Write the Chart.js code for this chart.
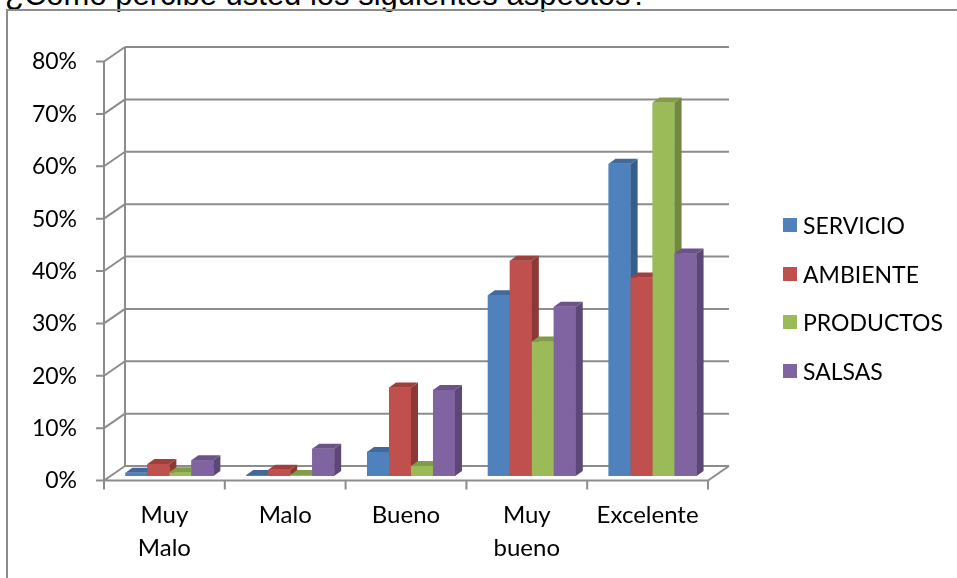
<!DOCTYPE html>
<html>
<head>
<meta charset="utf-8">
<script src="https://cdn.jsdelivr.net/npm/chart.js@4"></script>
<style>
  body { margin: 0; background: #fff; }
  #wrap { position: relative; width: 957px; height: 578px; overflow: hidden; }
  #title {
    position: absolute; left: 5px; top: -21px; white-space: nowrap;
    font-family: "Liberation Sans", Arial, sans-serif; font-size: 31px; line-height: 31px; color: #000;
  }
  #frame {
    position: absolute; left: 6px; top: 9px; width: 980px; height: 600px;
    border: 2px solid #8c8c8c; box-sizing: border-box;
  }
  #chart { position: absolute; left: 0; top: 0; }
  #legend { position: absolute; left: 783px; top: 201px; font-family: Lato, sans-serif; font-size: 23px; color: #000; }
  #legend .item { display: flex; align-items: center; height: 48.5px; }
  #legend .box { width: 14px; height: 14px; margin-right: 6px; }
</style>
</head>
<body>
<div id="wrap">
  <div id="title">¿Cómo percibe usted los siguientes aspectos?</div>
  <div id="frame"></div>
  <canvas id="chart" width="957" height="578"></canvas>
  <div id="legend"></div>
</div>
<script>
// Données (pourcentages)
const categories = [['Muy', 'Malo'], 'Malo', 'Bueno', ['Muy', 'bueno'], 'Excelente'];
const seriesNames = ['SERVICIO', 'AMBIENTE', 'PRODUCTOS', 'SALSAS'];
const servicio = [0.6, 0.2, 4.6, 34.5, 59.6];
const ambiente = [2.3, 1.2, 16.9, 41.1, 37.9];
const productos = [0.7, 0.2, 1.9, 25.7, 71.3];
const salsas = [3.0, 5.2, 16.4, 32.3, 42.5];
const yMax = 80;
const yStep = 10;

// Couleurs : face avant, côté, dessus
const frontColors = ['#4f81bd', '#c0504d', '#9bbb59', '#8064a2'];
const sideColors = ['#385d8a', '#8c3836', '#71893f', '#5c4776'];
const topColors = ['#41699b', '#a0403d', '#819c48', '#6b5388'];

const GRID = '#8c8c8c';
const FRONT = { dx: -5, dy: 4.5 };   // plan avant (axe) par rapport au plan des barres
const BACK = { dx: 16, dy: -10 };    // paroi du fond
const DEPTH = { dx: 7, dy: -5 };     // profondeur des barres

/**
 * Cadre 3D : paroi du fond, sol, axes avant
 */
const frame3d = {
    id: 'frame3d',
    beforeDatasetsDraw(chart) {
        const { ctx, chartArea: a, scales: { x, y } } = chart;
        const y0 = y.getPixelForValue(0);
        const yTop = y.getPixelForValue(yMax);
        ctx.save();
        ctx.strokeStyle = GRID;
        ctx.lineWidth = 2;
        ctx.beginPath();
        y.ticks.forEach(t => {
            const py = y.getPixelForValue(t.value);
            ctx.moveTo(a.left + BACK.dx, py + BACK.dy);
            ctx.lineTo(a.right + BACK.dx, py + BACK.dy);
            ctx.moveTo(a.left + FRONT.dx, py + FRONT.dy);
            ctx.lineTo(a.left + BACK.dx, py + BACK.dy);
            ctx.moveTo(a.left + FRONT.dx - 8, py + FRONT.dy);
            ctx.lineTo(a.left + FRONT.dx, py + FRONT.dy);
        });
        // paroi gauche du fond
        ctx.moveTo(a.left + BACK.dx, y0 + BACK.dy);
        ctx.lineTo(a.left + BACK.dx, yTop + BACK.dy);
        // axe vertical avant
        ctx.moveTo(a.left + FRONT.dx, y0 + FRONT.dy);
        ctx.lineTo(a.left + FRONT.dx, yTop + FRONT.dy);
        // sol
        ctx.moveTo(a.left + FRONT.dx, y0 + FRONT.dy);
        ctx.lineTo(a.right + FRONT.dx, y0 + FRONT.dy);
        ctx.lineTo(a.right + BACK.dx, y0 + BACK.dy);
        // graduations de l'axe X
        const step = x.getPixelForValue(1) - x.getPixelForValue(0);
        for (let i = 0; i <= categories.length; i++) {
            const px = x.getPixelForValue(0) - step / 2 + i * step + FRONT.dx;
            ctx.moveTo(px, y0 + FRONT.dy);
            ctx.lineTo(px, y0 + FRONT.dy + 9);
        }
        ctx.stroke();
        ctx.restore();
    },
    afterDatasetsDraw(chart) {
        const { ctx } = chart;
        const metas = chart.data.datasets.map((ds, i) => chart.getDatasetMeta(i));
        ctx.save();
        for (let i = 0; i < categories.length; i++) {
            metas.forEach((meta, d) => {
                const el = meta.data[i];
                const { x, y, base, width } = el.getProps(['x', 'y', 'base', 'width'], true);
                const l = x - width / 2;
                const r = x + width / 2;
                // face avant
                ctx.fillStyle = frontColors[d];
                ctx.fillRect(l, y, width, base - y);
                // côté
                ctx.fillStyle = sideColors[d];
                ctx.beginPath();
                ctx.moveTo(r, y);
                ctx.lineTo(r + DEPTH.dx, y + DEPTH.dy);
                ctx.lineTo(r + DEPTH.dx, base + DEPTH.dy);
                ctx.lineTo(r, base);
                ctx.closePath();
                ctx.fill();
                // dessus
                ctx.fillStyle = topColors[d];
                ctx.beginPath();
                ctx.moveTo(l, y);
                ctx.lineTo(l + DEPTH.dx, y + DEPTH.dy);
                ctx.lineTo(r + DEPTH.dx, y + DEPTH.dy);
                ctx.lineTo(r, y);
                ctx.closePath();
                ctx.fill();
            });
        }
        ctx.restore();
    }
};

const seriesValues = [servicio, ambiente, productos, salsas];

const chart = new Chart(document.getElementById('chart'), {
    type: 'bar',
    data: {
        labels: categories,
        datasets: seriesNames.map((name, i) => ({
            label: name,
            data: seriesValues[i],
            backgroundColor: frontColors[i],
            borderWidth: 0,
            categoryPercentage: 0.728,
            barPercentage: 1.0
        }))
    },
    options: {
        responsive: false,
        animation: false,
        devicePixelRatio: 1,
        layout: {
            padding: { top: 57, right: 244, bottom: 0, left: 0 }
        },
        scales: {
            y: {
                min: 0,
                max: yMax,
                border: { display: false },
                grid: { display: false, drawTicks: false },
                afterFit: scale => { scale.width = 109; },
                ticks: {
                    stepSize: yStep,
                    padding: 32,
                    labelOffset: 5,
                    color: '#000',
                    font: { family: 'Lato', size: 23 },
                    callback: v => v + '%'
                }
            },
            x: {
                border: { display: false },
                grid: { display: false, drawTicks: false },
                afterFit: scale => { scale.height = 102; },
                ticks: {
                    padding: 22,
                    labelOffset: -5,
                    maxRotation: 0,
                    autoSkip: false,
                    color: '#000',
                    font: { family: 'Lato', size: 24, lineHeight: 1.4 }
                }
            }
        },
        plugins: {
            legend: { display: false },
            tooltip: { enabled: false }
        }
    },
    plugins: [frame3d]
});

// Légende HTML
const legend = document.getElementById('legend');
seriesNames.forEach((name, i) => {
    const item = document.createElement('div');
    item.className = 'item';
    item.innerHTML = '<span class="box" style="background:' + frontColors[i] + '"></span>' + name;
    legend.appendChild(item);
});
</script>
</body>
</html>
